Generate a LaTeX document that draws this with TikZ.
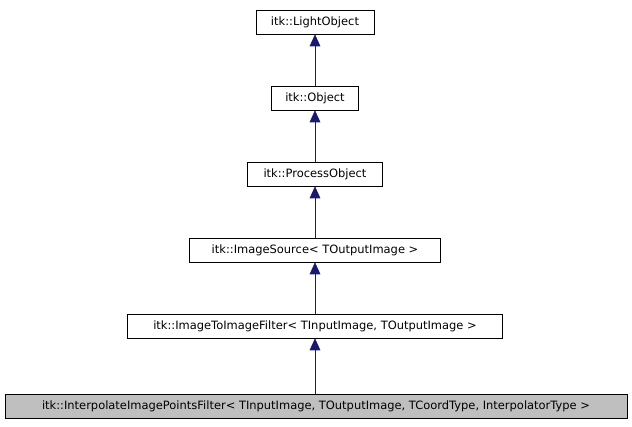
\documentclass[tikz,border=0pt]{standalone}
\usepackage{fontspec}
\setmainfont{DejaVu Sans}
\usetikzlibrary{arrows.meta}
\definecolor{navy}{RGB}{25,25,112}
\tikzset{%
	classbox/.style = {draw, rectangle, inner sep=0pt, minimum height=18pt, font=\fontsize{8.6}{10}\selectfont},
	current/.style  = {classbox, fill=black!25},
	inherit/.style  = {draw=navy, -{Triangle[length=9pt,width=8pt,fill=navy]}},
}

\begin{document}
\begin{tikzpicture}[x=0.75pt,y=-0.75pt]
	\useasboundingbox (0,0) rectangle (632,427);
	\node[classbox, minimum width=88.5pt]  (light)   at (315,22)  {itk::LightObject};
	\node[classbox, minimum width=65pt]    (object)  at (315,98)  {itk::Object};
	\node[classbox, minimum width=101pt]   (process) at (315,174) {itk::ProcessObject};
	\node[classbox, minimum width=188pt]   (source)  at (315,250) {itk::ImageSource< TOutputImage >};
	\node[classbox, minimum width=281pt]   (i2i)     at (315,326) {itk::ImageToImageFilter< TInputImage, TOutputImage >};
	\node[current, minimum width=466.5pt]  (interp)  at (316,406) {itk::InterpolateImagePointsFilter< TInputImage, TOutputImage, TCoordType, InterpolatorType >};

	\draw[inherit] (object) -- (light);
	\draw[inherit] (process) -- (object);
	\draw[inherit] (source) -- (process);
	\draw[inherit] (i2i) -- (source);
	\draw[inherit] (interp.north -| i2i) -- (i2i);
\end{tikzpicture}
\end{document}
